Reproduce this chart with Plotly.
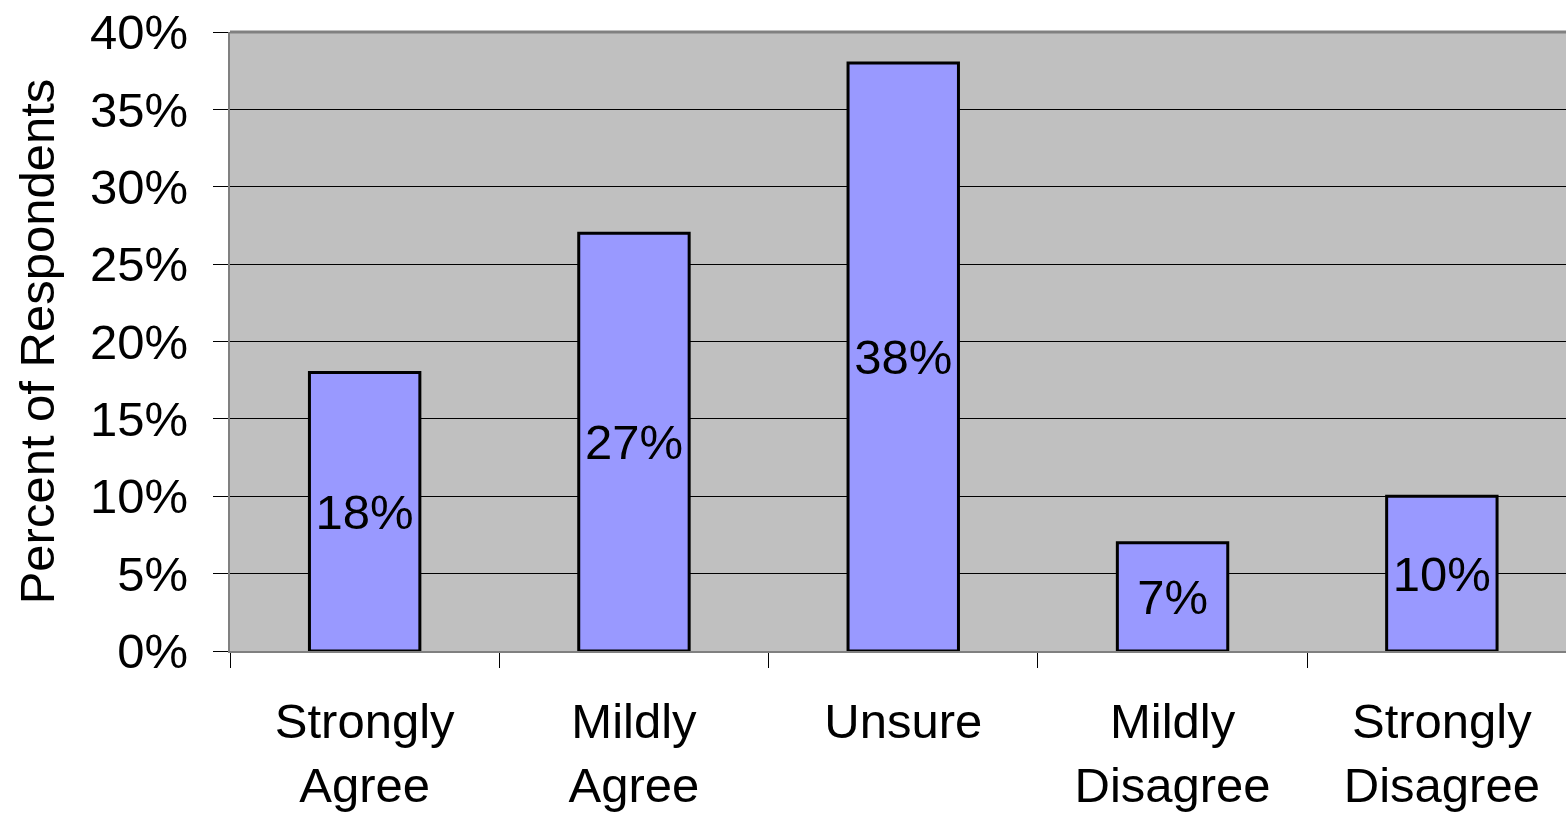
import plotly.graph_objects as go

categories = ["Strongly<br>Agree", "Mildly<br>Agree", "Unsure", "Mildly<br>Disagree", "Strongly<br>Disagree"]
values = [0.18, 0.27, 0.38, 0.07, 0.10]
labels = ["18%", "27%", "38%", "7%", "10%"]
y_ticks = [0, 0.05, 0.10, 0.15, 0.20, 0.25, 0.30, 0.35, 0.40]
y_tick_text = ["0%", "5%", "10%", "15%", "20%", "25%", "30%", "35%", "40%"]

FONT = "Liberation Sans, Arial, sans-serif"
FS = 49

fig = go.Figure(go.Bar(
    x=categories, y=values, text=labels,
    textposition="inside", insidetextanchor="middle",
    textfont=dict(family=FONT, size=FS, color="black"),
    marker=dict(color="#9999FF", line=dict(color="black", width=3)),
    width=0.41,
))

fig.update_layout(
    width=1566, height=815,
    margin=dict(l=230, r=0, t=32, b=164),
    paper_bgcolor="white", plot_bgcolor="#C0C0C0",
    showlegend=False,
    font=dict(family=FONT, color="black"),
    xaxis=dict(
        range=[-0.5, 4.461], tickson="boundaries", ticks="outside", ticklen=15,
        tickcolor="black", tickwidth=1, showline=True, linecolor="#808080", linewidth=2,
        tickfont=dict(size=FS, family=FONT), showgrid=False, ticklabelstandoff=26,
    ),
    yaxis=dict(
        range=[0, 0.40], tickvals=y_ticks, ticktext=y_tick_text,
        ticks="outside", ticklen=15, tickcolor="black", tickwidth=1,
        showline=True, linecolor="#808080", linewidth=2,
        gridcolor="black", gridwidth=1, zeroline=False,
        tickfont=dict(size=FS, family=FONT), ticklabelstandoff=15,
        title=dict(text="Percent of Respondents", font=dict(size=FS, family=FONT), standoff=20),
    ),
)
fig.add_shape(type="line", xref="paper", yref="paper", x0=0, x1=1, y0=1, y1=1,
              line=dict(color="#808080", width=3))

fig.write_html("out.html")
